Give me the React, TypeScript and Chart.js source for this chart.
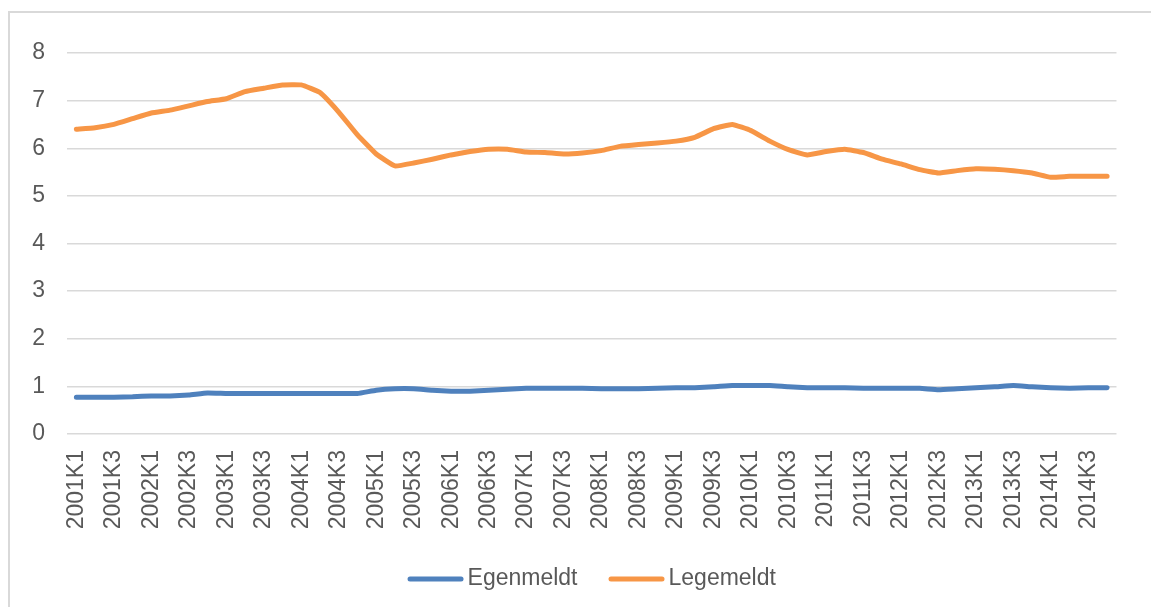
import React, { useEffect, useRef } from "react";
import { Chart, registerables } from "chart.js";

Chart.register(...registerables);

const years = [2001, 2002, 2003, 2004, 2005, 2006, 2007, 2008, 2009, 2010, 2011, 2012, 2013, 2014];
const quarters = ["K1", "K2", "K3", "K4"];
const categories: string[] = [];
for (const y of years) for (const q of quarters) categories.push(`${y}${q}`);

const egenmeldt = [
  0.77, 0.77, 0.77, 0.78, 0.8, 0.8, 0.82, 0.86, 0.85, 0.85, 0.85, 0.85, 0.85, 0.85,
  0.85, 0.85, 0.92, 0.95, 0.95, 0.92, 0.9, 0.9, 0.92, 0.94, 0.96, 0.96, 0.96, 0.96,
  0.95, 0.95, 0.95, 0.96, 0.97, 0.97, 0.99, 1.02, 1.02, 1.02, 0.99, 0.97, 0.97, 0.97,
  0.96, 0.96, 0.96, 0.96, 0.93, 0.95, 0.97, 0.99, 1.02, 0.99, 0.97, 0.96, 0.97, 0.97,
];

const legemeldt = [
  6.4, 6.43, 6.5, 6.62, 6.74, 6.8, 6.89, 6.98, 7.04, 7.19, 7.26, 7.33, 7.33, 7.17,
  6.76, 6.28, 5.88, 5.63, 5.69, 5.77, 5.86, 5.93, 5.98, 5.98, 5.92, 5.91, 5.88, 5.9,
  5.95, 6.04, 6.08, 6.11, 6.15, 6.23, 6.41, 6.5, 6.37, 6.15, 5.97, 5.86, 5.93, 5.98,
  5.91, 5.77, 5.67, 5.55, 5.48, 5.53, 5.57, 5.56, 5.53, 5.48, 5.39, 5.41, 5.41, 5.41,
];

const seriesNames = ["Egenmeldt", "Legemeldt"];
const seriesColors = ["#4F81BD", "#F79646"];
const yTicks = [0, 1, 2, 3, 4, 5, 6, 7, 8];

const FONT = "'Liberation Sans', Arial, sans-serif";
const TEXT = "#595959";
const FS = 23;

const legendPlugin = {
  id: "customLegend",
  afterDraw(chart: any) {
    const ctx = chart.ctx;
    const area = chart.chartArea;
    ctx.save();
    ctx.font = `${FS}px ${FONT}`;
    const lineW = 56;
    const gap = 4;
    const itemGap = 31;
    const items = chart.data.datasets.map((d: any) => ({
      text: d.label,
      color: d.borderColor,
      w: lineW + gap + ctx.measureText(d.label).width,
    }));
    const total = items.reduce((s: number, it: any) => s + it.w, 0) + itemGap * (items.length - 1);
    let x = (area.left + area.right) / 2 - total / 2;
    const y = 579;
    for (const it of items) {
      ctx.strokeStyle = it.color;
      ctx.lineWidth = 5;
      ctx.lineCap = "round";
      ctx.beginPath();
      ctx.moveTo(x + 2.5, y);
      ctx.lineTo(x + lineW - 2.5, y);
      ctx.stroke();
      ctx.fillStyle = TEXT;
      ctx.textBaseline = "middle";
      ctx.textAlign = "left";
      ctx.fillText(it.text, x + lineW + gap, y);
      x += it.w + itemGap;
    }
    ctx.restore();
  },
};

export default function App() {
  const ref = useRef<HTMLCanvasElement | null>(null);
  useEffect(() => {
    if (!ref.current) return;
    const chart = new Chart(ref.current, {
      type: "line",
      data: {
        labels: categories,
        datasets: [egenmeldt, legemeldt].map((vals, i) => ({
          label: seriesNames[i],
          data: vals,
          borderColor: seriesColors[i],
          backgroundColor: seriesColors[i],
          borderWidth: 5,
          pointRadius: 0,
          tension: 0.12,
          borderCapStyle: "round" as const,
          borderJoinStyle: "round" as const,
          fill: false,
        })),
      },
      options: {
        responsive: false,
        animation: false,
        layout: { padding: { top: 53, left: 0, right: 34, bottom: 52 } },
        plugins: { legend: { display: false }, tooltip: { enabled: false } },
        scales: {
          x: {
            offset: true,
            grid: { display: false, drawTicks: false },
            border: { display: false },
            afterFit: (s: any) => {
              s.height = 121;
            },
            ticks: {
              autoSkip: false,
              maxRotation: 90,
              minRotation: 90,
              padding: 16,
              color: TEXT,
              font: { family: FONT, size: FS },
              callback: (_v: any, i: number) => (i % 2 === 0 ? categories[i] : ""),
            },
          },
          y: {
            min: 0,
            max: 8,
            afterBuildTicks: (s: any) => {
              s.ticks = yTicks.map((v) => ({ value: v }));
            },
            afterFit: (s: any) => {
              s.width = 67;
            },
            grid: { color: "#d9d9d9", lineWidth: 1.5, drawTicks: false },
            border: { display: false },
            ticks: {
              padding: 22,
              color: TEXT,
              font: { family: FONT, size: FS },
            },
          },
        },
      },
      plugins: [legendPlugin],
    });
    return () => chart.destroy();
  }, []);
  return (
    <div style={{ position: "fixed", left: 0, top: 0, width: 1151, height: 607, background: "#fff", overflow: "hidden" }}>
      <div
        style={{
          position: "absolute",
          left: 8,
          top: 11,
          width: 1143,
          height: 596,
          borderTop: "2px solid #d9d9d9",
          borderLeft: "2px solid #d9d9d9",
          boxSizing: "border-box",
        }}
      />
      <canvas ref={ref} width={1151} height={607} style={{ position: "absolute", left: 0, top: 0 }} />
    </div>
  );
}
